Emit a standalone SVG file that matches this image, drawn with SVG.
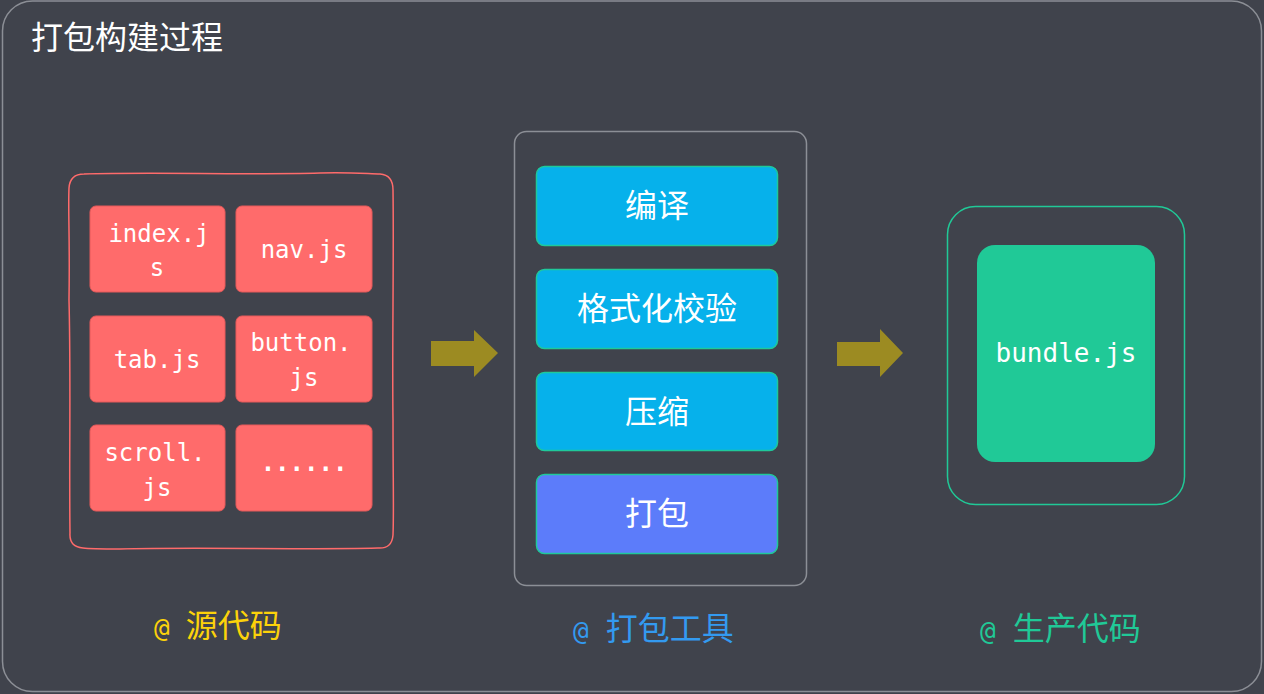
<svg xmlns="http://www.w3.org/2000/svg" width="1264" height="694" viewBox="0 0 1264 694">
<style>
.cjk{font-family:"Noto Sans CJK SC","Noto Sans",sans-serif;}
.mono{font-family:"DejaVu Sans Mono","Liberation Mono",monospace;}
.file rect{fill:#ff6b6b;stroke:#e65a5a;stroke-width:1;}
.file text{fill:#ffffff;font-size:24px;text-anchor:middle;}
.step rect{stroke:#1fc99a;stroke-width:1.5;}
.step text{fill:#ffffff;font-size:32px;text-anchor:middle;}
.arrow{fill:#9c8b22;}
</style>
<rect x="0" y="0" width="1264" height="694" fill="#40434c"/>
<rect x="2.5" y="1" width="1259" height="690.5" rx="30" fill="#40434c" stroke="#8c8f96" stroke-width="1.5"/>
<text class="cjk" x="31" y="49" font-size="32" fill="#ffffff">打包构建过程</text>

<g id="source">
<path d="M84,174 C150,172 250,175 320,173 C350,172 370,174 380,174 Q393,175 393,190 C394,260 392,350 393,420 C393,480 394,510 393,535 Q392,549 378,548 C300,550 200,547 120,549 C100,549 90,549 83,548 Q69,547 70,533 C69,460 71,380 69,300 C70,240 68,210 69,188 Q70,174 84,174 Z" fill="none" stroke="#ff6b6b" stroke-width="1.5"/>
<g id="f-index" class="file"><rect x="90" y="206" width="135" height="86" rx="6"/><text class="mono" x="159" y="242">index.j</text><text class="mono" x="157" y="276">s</text></g>
<g id="f-nav" class="file"><rect x="236" y="206" width="136" height="86" rx="6"/><text class="mono" x="304" y="258">nav.js</text></g>
<g id="f-tab" class="file"><rect x="90" y="316" width="135" height="86" rx="6"/><text class="mono" x="157" y="368">tab.js</text></g>
<g id="f-button" class="file"><rect x="236" y="316" width="136" height="86" rx="6"/><text class="mono" x="301" y="351">button.</text><text class="mono" x="304" y="386">js</text></g>
<g id="f-scroll" class="file"><rect x="90" y="425" width="135" height="86" rx="6"/><text class="mono" x="155" y="461">scroll.</text><text class="mono" x="157" y="496">js</text></g>
<g id="f-more" class="file"><rect x="236" y="425" width="136" height="86" rx="6"/><text class="mono" x="304" y="471" font-weight="bold">......</text></g>
</g>

<g id="tool">
<rect x="514.5" y="131.5" width="292" height="454" rx="12" fill="none" stroke="#8c8f96" stroke-width="1.5"/>
<g id="s-compile" class="step"><rect x="536.5" y="166.5" width="241" height="79" rx="8" fill="#06b1eb"/><text class="cjk" x="657" y="217">编译</text></g>
<g id="s-lint" class="step"><rect x="536.5" y="269.5" width="241" height="79" rx="8" fill="#06b1eb"/><text class="cjk" x="657" y="320">格式化校验</text></g>
<g id="s-minify" class="step"><rect x="536.5" y="372.5" width="241" height="78" rx="8" fill="#06b1eb"/><text class="cjk" x="657" y="423">压缩</text></g>
<g id="s-bundle" class="step"><rect x="536.5" y="474.5" width="241" height="79" rx="8" fill="#5c7cfa"/><text class="cjk" x="657" y="525">打包</text></g>
</g>

<g id="output">
<rect x="947.5" y="206.5" width="237" height="298" rx="28" fill="none" stroke="#20c997" stroke-width="1.5"/>
<g id="bundle"><rect x="977" y="245" width="178" height="217" rx="18" fill="#20c997"/><text class="mono" x="1066" y="362" font-size="26" fill="#ffffff" text-anchor="middle">bundle.js</text></g>
</g>

<g id="connectors">
<polygon class="arrow" points="431,341 474,341 474,330 498,353 474,377 474,366 431,366"/>
<polygon class="arrow" points="837,342 880,342 880,329 903,353 880,377 880,366 837,366"/>
</g>

<g id="labels">
<text x="154" y="637" fill="#fcd20a"><tspan class="mono" font-size="26">@</tspan><tspan class="cjk" font-size="32" dx="16">源代码</tspan></text>
<text x="573" y="640" fill="#339af0"><tspan class="mono" font-size="26">@</tspan><tspan class="cjk" font-size="32" dx="17">打包工具</tspan></text>
<text x="980" y="640" fill="#20c997"><tspan class="mono" font-size="26">@</tspan><tspan class="cjk" font-size="32" dx="17">生产代码</tspan></text>
</g>
</svg>
